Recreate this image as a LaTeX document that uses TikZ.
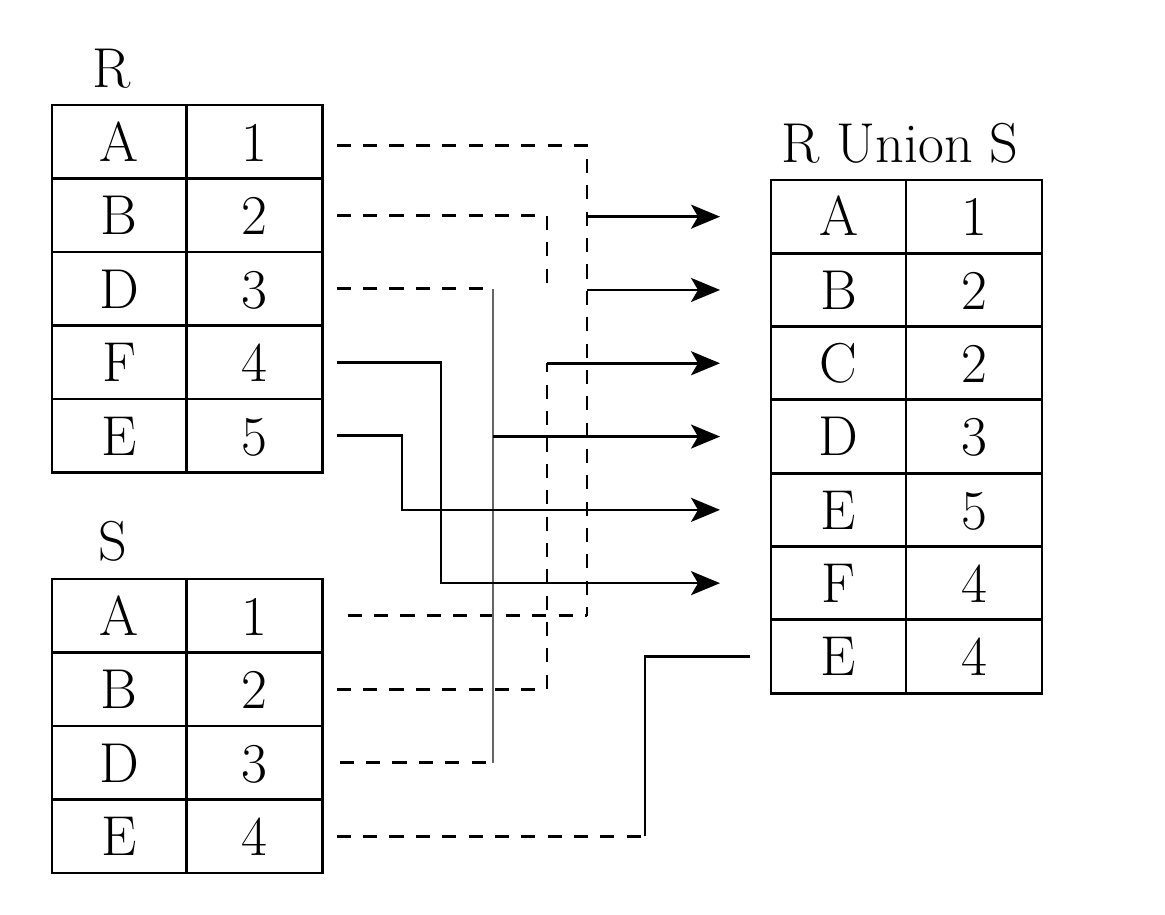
\documentclass[tikz,border=0pt]{standalone}
\usepackage{fontspec}
\usetikzlibrary{arrows.meta}
\begin{document}
\begin{tikzpicture}[x=0.02cm,y=-0.02cm,
  cell/.style={draw,line width=1.6pt,inner sep=0pt,outer sep=0pt,
    minimum height=1.47cm,text height=22pt,text depth=0pt,
    font=\fontsize{32}{38}\selectfont},
  keycell/.style={cell,minimum width=2.68cm},
  valcell/.style={cell,minimum width=2.73cm},
  title/.style={anchor=base,inner sep=0pt,font=\fontsize{32}{38}\selectfont},
  conn/.style={line width=1.5pt},
  dsh/.style={conn,dash pattern=on 8pt off 7pt},
  arr/.style={conn,-{Stealth[length=0.58cm,width=0.48cm,inset=0.14cm]}},
  bus/.style={conn,black!60},
]
\useasboundingbox[fill=white] (0,0) rectangle (1165,914);

% titles
\node[title] (tR) at (112,87) {R};
\node[title] (tS) at (113,560) {S};
\node[title] (tU) at (900,162) {R Union S};

% table R
\foreach \k/\v [count=\i] in {A/1,B/2,D/3,F/4,E/5} {
  \node[keycell] (rk\i) at (119,{105+73.5*(\i-0.5)}) {\k};
  \node[valcell] (rv\i) at (254.5,{105+73.5*(\i-0.5)}) {\v};
}
% table S
\foreach \k/\v [count=\i] in {A/1,B/2,D/3,E/4} {
  \node[keycell] (sk\i) at (119,{579+73.5*(\i-0.5)}) {\k};
  \node[valcell] (sv\i) at (254.5,{579+73.5*(\i-0.5)}) {\v};
}
% table R Union S
\foreach \k/\v [count=\i] in {A/1,B/2,C/2,D/3,E/5,F/4,E/4} {
  \node[keycell,minimum width=2.7cm] (uk\i) at (838.5,{180+73.3*(\i-0.5)}) {\k};
  \node[valcell,minimum width=2.72cm] (uv\i) at (974,{180+73.3*(\i-0.5)}) {\v};
}

% column positions of the connectors
\coordinate (busA) at (587,0);
\coordinate (colB) at (547,0);
\coordinate (colD) at (493,0);
\coordinate (colF) at (441,0);
\coordinate (colE) at (402,0);
\coordinate (colS) at (645,0);

% A
\draw[dsh] ([xshift=0.28cm,yshift=-0.08cm]rv1.east) -| (busA |- sv1.east);
\draw[dsh] ([xshift=0.5cm]sv1.east) -- (busA |- sv1.east);
\draw[arr] (busA |- uk1.west) -- ([xshift=-1.02cm]uk1.west);
% B
\draw[dsh] ([xshift=0.28cm]rv2.east) -| (colB |- uk2.west);
\draw[arr] (busA |- uk2.west) -- ([xshift=-1.02cm]uk2.west);
% C
\draw[dsh] ([xshift=0.28cm]sv2.east) -| (colB |- uk3.west);
\draw[arr] (colB |- uk3.west) -- ([xshift=-1.02cm]uk3.west);
% D
\draw[dsh] ([xshift=0.28cm]rv3.east) -- (colD |- rv3.east);
\draw[bus] (colD |- rv3.east) -- (colD |- sv3.east);
\draw[dsh] ([xshift=0.34cm]sv3.east) -- (colD |- sv3.east);
\draw[arr] (colD |- uk4.west) -- ([xshift=-1.02cm]uk4.west);
% F
\draw[arr] ([xshift=0.28cm]rv4.east) -| (colF |- uk6.west) -- ([xshift=-1.02cm]uk6.west);
% E 5
\draw[arr] ([xshift=0.28cm]rv5.east) -| (colE |- uk5.west) -- ([xshift=-1.02cm]uk5.west);
% E 4
\draw[dsh] ([xshift=0.28cm]sv4.east) -- (colS |- sv4.east);
\draw[conn] (colS |- sv4.east) |- ([xshift=-0.42cm]uk7.west);
\end{tikzpicture}
\end{document}
